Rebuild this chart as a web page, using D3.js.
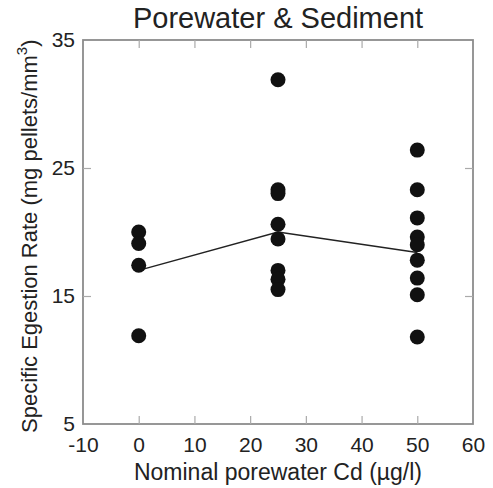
<!DOCTYPE html>
<html>
<head>
<meta charset="utf-8">
<script src="https://cdn.jsdelivr.net/npm/d3@7"></script>
<style>
  body { margin: 0; background: #fff; }
  text { font-family: "Liberation Sans", Arial, sans-serif; fill: #222; }
</style>
</head>
<body>
<div id="chart"></div>
<script>
(function() {

  var width = 493,
      height = 488

  // individual observations, one array per nominal Cd level
  var doses = [0, 25, 50]
  var rate0 = [20.0, 19.1, 17.4, 11.9]
  var rate25 = [31.9, 23.3, 23.0, 20.6, 19.45, 17.0, 16.3, 15.5]
  var rate50 = [26.4, 23.3, 21.1, 19.6, 19.0, 17.8, 16.4, 15.1, 11.8]
  // line through the group means
  var meanRate = [17.0, 20.0, 18.4]

  var xTicks = [-10, 0, 10, 20, 30, 40, 50, 60]
  var yTicks = [5, 15, 25, 35]

  var margin = { left: 83, right: 20, top: 40, bottom: 64 }

  var svg = d3.select("#chart")
    .append("svg")
    .attr("width", width)
    .attr("height", height)

  var xScale = d3.scaleLinear().domain([-10, 60]).range([margin.left, width - margin.right])
  var yScale = d3.scaleLinear().domain([5, 35]).range([height - margin.bottom, margin.top])

  var x0 = xScale(-10), x1 = xScale(60), y0 = yScale(5), y1 = yScale(35)

  // frame
  svg.append("rect")
    .attr("x", x0)
    .attr("y", y1)
    .attr("width", x1 - x0)
    .attr("height", y0 - y1)
    .attr("fill", "none")
    .attr("stroke", "#8c8c8c")
    .attr("stroke-width", 1.8)

  // plain hyphen for negatives, like the original
  var fmt = function(d) { return String(d) }

  // bottom axis, ticks pointing inward
  var bottomAxis = svg.append("g")
    .attr("transform", "translate(0," + y0 + ")")
    .call(d3.axisBottom(xScale).tickValues(xTicks).tickSize(-8).tickPadding(13).tickFormat(fmt))
  // top axis ticks only
  var topAxis = svg.append("g")
    .attr("transform", "translate(0," + y1 + ")")
    .call(d3.axisTop(xScale).tickValues(xTicks.slice(1, -1)).tickSize(-8).tickFormat(""))
  // left axis
  var leftAxis = svg.append("g")
    .attr("transform", "translate(" + x0 + ",0)")
    .call(d3.axisLeft(yScale).tickValues(yTicks).tickSize(-8).tickPadding(8).tickFormat(fmt))
  // right axis ticks only
  var rightAxis = svg.append("g")
    .attr("transform", "translate(" + x1 + ",0)")
    .call(d3.axisRight(yScale).tickValues(yTicks.slice(1, -1)).tickSize(-8).tickFormat(""))

  ;[bottomAxis, topAxis, leftAxis, rightAxis].forEach(function(g) {
    g.select(".domain").remove()
    g.selectAll(".tick line").attr("stroke", "#aaa").attr("stroke-width", 1.2)
    g.selectAll(".tick text").attr("font-size", 21).attr("fill", "#222")
      .attr("font-family", "Liberation Sans, Arial, sans-serif")
  })
  // end ticks sit on the frame corners, hide them
  bottomAxis.selectAll(".tick line").filter(function(d) { return d === -10 || d === 60 }).remove()
  leftAxis.selectAll(".tick line").filter(function(d) { return d === 5 || d === 35 }).remove()

  // mean line
  var line = d3.line()
    .x(function(d, i) { return xScale(doses[i]) })
    .y(function(d) { return yScale(d) })

  svg.append("path")
    .datum(meanRate)
    .attr("d", line)
    .attr("fill", "none")
    .attr("stroke", "#222")
    .attr("stroke-width", 1.5)

  // points
  var points = []
  ;[rate0, rate25, rate50].forEach(function(arr, i) {
    arr.forEach(function(v) { points.push({ dose: doses[i], rate: v }) })
  })

  svg.selectAll("circle")
    .data(points)
    .enter().append("circle")
    .attr("cx", function(d) { return xScale(d.dose) })
    .attr("cy", function(d) { return yScale(d.rate) })
    .attr("r", 7.5)
    .attr("fill", "#111")

  // title
  svg.append("text")
    .attr("x", (x0 + x1) / 2)
    .attr("y", 28)
    .attr("text-anchor", "middle")
    .attr("font-size", 29)
    .text("Porewater & Sediment")

  // x axis title
  svg.append("text")
    .attr("x", (x0 + x1) / 2)
    .attr("y", 480)
    .attr("text-anchor", "middle")
    .attr("font-size", 23)
    .text("Nominal porewater Cd (\u00b5g/l)")

  // y axis title
  var yTitle = svg.append("text")
    .attr("transform", "translate(37,433) rotate(-90)")
    .attr("text-anchor", "start")
    .attr("font-size", 22)
  yTitle.append("tspan").text("Specific Egestion Rate (mg pellets/mm")
  yTitle.append("tspan").attr("font-size", 15).attr("dy", -10).text("3")
  yTitle.append("tspan").attr("dy", 10).text(")")

})()
</script>
</body>
</html>
